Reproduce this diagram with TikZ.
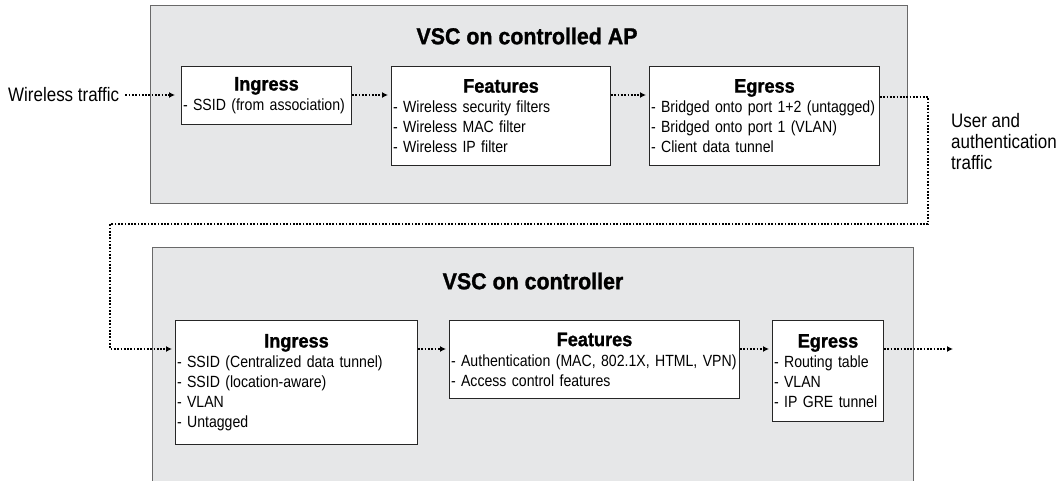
\documentclass[tikz,border=0pt]{standalone}
\usepackage{fontspec}
\setmainfont{Liberation Sans}[FakeStretch=0.87,BoldFeatures={FakeStretch=0.93,FakeBold=1.2}]
\usetikzlibrary{arrows.meta}
\setlength{\parindent}{0pt}
\definecolor{panelgray}{RGB}{230,231,232}
\definecolor{panelline}{RGB}{105,105,105}
\newcommand{\boxhead}[1]{{\centering\fontsize{19.5}{22}\selectfont\bfseries #1\par}\raggedright}

\begin{document}
\begin{tikzpicture}[x=1pt,y=-1pt,
  panel/.style={draw=panelline,fill=panelgray,line width=1pt,anchor=north west,inner sep=0pt},
  paneltitle/.style={font=\fontsize{23}{26}\selectfont\bfseries},
  stepbox/.style={draw=black!85,fill=white,line width=1pt,anchor=north west,
    inner xsep=1.5pt,inner ysep=0pt,font=\fontsize{16.2}{20}\selectfont},
  sidetext/.style={font=\fontsize{19.5}{21}\selectfont,align=left,inner sep=0pt},
  flow/.style={line width=1.7pt,dash pattern=on 1.7pt off 1.6pt,
    -{Latex[length=6pt,width=6pt]},shorten >=3pt}]
  \useasboundingbox (0,0) rectangle (1061,481);
  \clip (0,0) rectangle (1061,481);

  \node[panel,minimum width=757pt,minimum height=198pt] (apbox) at (150,5) {};
  \node[panel,minimum width=761pt,minimum height=260pt] (ctlbox) at (152,247) {};
  \node[paneltitle] (aptitle) at (527,36) {VSC on controlled AP};
  \node[paneltitle] (ctltitle) at (533,281) {VSC on controller};

  % controlled AP
  \node[stepbox,text width=167pt,minimum height=58pt] (ingA) at (181,66)
    {\boxhead{Ingress}- SSID (from association)};
  \node[stepbox,text width=216pt,minimum height=99pt] (featA) at (391,66)
    {\boxhead{Features}- Wireless security filters\\- Wireless MAC filter\\- Wireless IP filter};
  \node[stepbox,text width=227pt,minimum height=99pt] (egA) at (649,66)
    {\boxhead{Egress}- Bridged onto port 1+2 (untagged)\\- Bridged onto port 1 (VLAN)\\- Client data tunnel};

  % controller
  \node[stepbox,text width=239pt,minimum height=124pt] (ingB) at (175,320)
    {\boxhead{Ingress}- SSID (Centralized data tunnel)\\- SSID (location-aware)\\- VLAN\\- Untagged};
  \node[stepbox,text width=287pt,minimum height=78pt] (featB) at (449,320)
    {\boxhead{Features}- Authentication (MAC, 802.1X, HTML, VPN)\\- Access control features};
  \node[stepbox,text width=108pt,minimum height=101pt] (egB) at (772,320)
    {\boxhead{Egress}- Routing table\\- VLAN\\- IP GRE tunnel};

  \node[sidetext,anchor=west] (wt) at (8,95) {Wireless traffic};
  \node[sidetext,anchor=north west] (usertxt) at (951,113) {User and\\authentication\\traffic};

  \coordinate (rowA) at (0,95);
  \coordinate (rowB) at (0,349);
  \coordinate (turnA) at (928,97);
  \coordinate (turnB) at (110,224);
  \coordinate (exit) at (953,349);

  \draw[flow,shorten <=6pt,shorten >=6pt] (wt) -- (ingA.west |- rowA);
  \draw[flow] (ingA.east |- rowA) -- (featA.west |- rowA);
  \draw[flow] (featA.east |- rowA) -- (egA.west |- rowA);
  \draw[flow] (egA.east |- turnA) -- (turnA) -- (turnA |- turnB) -- (turnB) -- (turnB |- rowB) -- (ingB.west |- rowB);
  \draw[flow] (ingB.east |- rowB) -- (featB.west |- rowB);
  \draw[flow] (featB.east |- rowB) -- (egB.west |- rowB);
  \draw[flow,shorten >=0pt] (egB.east |- rowB) -- (exit);
\end{tikzpicture}
\end{document}
